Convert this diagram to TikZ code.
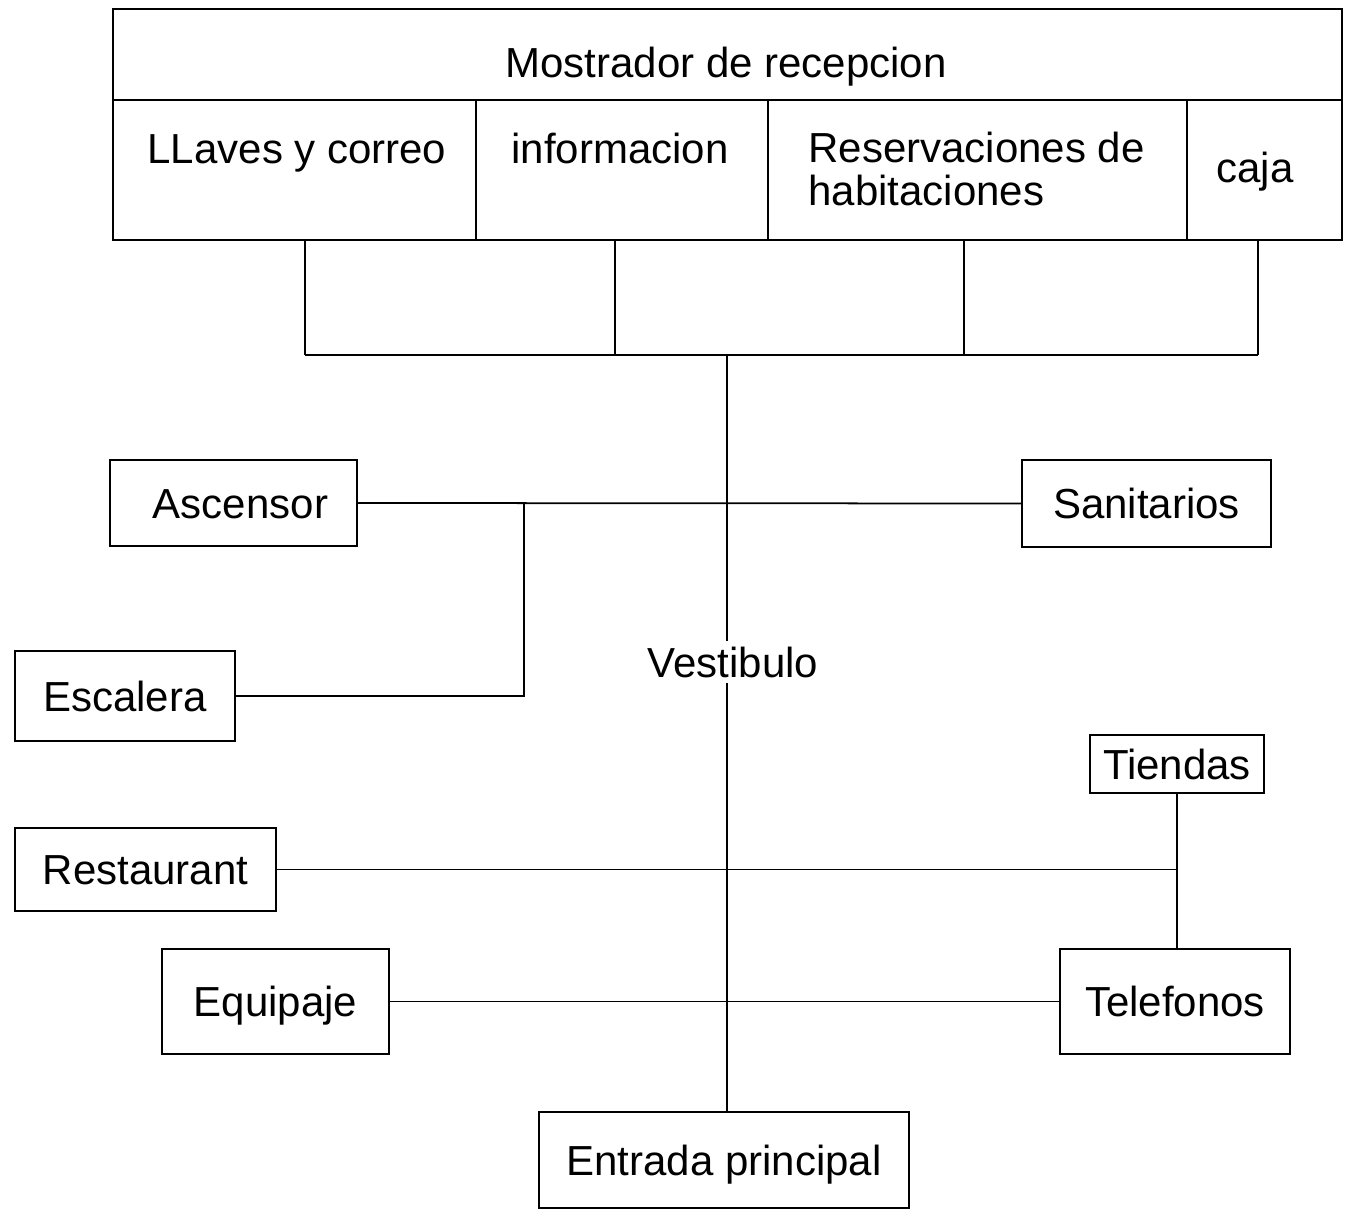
\documentclass[tikz,border=0pt]{standalone}
\usepackage{fontspec}
\setmainfont{Liberation Sans}
\usepackage{tikz}
\usetikzlibrary{positioning}
\newcommand{\lblfont}{\fontsize{23.9}{24.5}\selectfont}
\tikzset{
	cell/.style={draw, line width=1.3pt, inner sep=0pt, outer sep=0pt},
	box/.style={draw, line width=1.3pt, inner sep=0pt, font=\lblfont, text height=17.2pt, text depth=0pt},
	txt/.style={inner sep=0pt, font=\lblfont},
	wire/.style={line width=1pt}
}

\begin{document}
\begin{tikzpicture}
		\useasboundingbox (0,0) rectangle (26.94,-24.2);
		\node[cell, minimum width=24.58cm, minimum height=1.82cm] (mostrador) at (14.55,-1.09) {};
		\node[cell, minimum width=7.26cm, minimum height=2.8cm, anchor=north west] (llaves) at (mostrador.south west) {};
		\node[cell, minimum width=5.84cm, minimum height=2.8cm, right=0pt of llaves] (info) {};
		\node[cell, minimum width=8.38cm, minimum height=2.8cm, right=0pt of info] (reserv) {};
		\node[cell, minimum width=3.10cm, minimum height=2.8cm, right=0pt of reserv] (caja) {};
		\node[txt, anchor=base] (tmostrador) at (14.52,-1.56) {Mostrador de recepcion};
		\node[txt, anchor=base] (tllaves) at (5.94,-3.28) {LLaves y correo};
		\node[txt, anchor=base] (tinfo) at (12.4,-3.28) {informacion};
		\node[txt, anchor=base west, align=left] (treserv) at (16.16,-4.12) {Reservaciones de\\habitaciones};
		\node[txt, anchor=base] (tcaja) at (25.1,-3.66) {caja};

		\coordinate (b1) at (6.1,-7.1);
		\coordinate (b2) at (12.3,-7.1);
		\coordinate (b3) at (19.28,-7.1);
		\coordinate (b4) at (25.16,-7.1);
		\coordinate (hub) at (14.54,-7.1);
		\draw[wire] (b1) -- (b4);
		\draw[wire] (b1) -- (b1 |- llaves.south);
		\draw[wire] (b2) -- (b2 |- info.south);
		\draw[wire] (b3) -- (b3 |- reserv.south);
		\draw[wire] (b4) -- (b4 |- caja.south);

		\node[box, minimum width=4.94cm, minimum height=1.72cm] (asc) at (4.67,-10.06) {\hspace*{0.28cm}Ascensor};
		\node[box, minimum width=4.98cm, minimum height=1.74cm] (san) at (22.93,-10.07) {Sanitarios};
		\node[box, minimum width=4.4cm, minimum height=1.8cm] (esc) at (2.5,-13.92) {Escalera};
		\node[txt, inner sep=3pt] (vest) at (14.66,-13.24) {Vestibulo};
		\node[box, minimum width=3.48cm, minimum height=1.16cm] (tien) at (23.54,-15.28) {Tiendas};
		\node[box, minimum width=5.22cm, minimum height=1.66cm] (rest) at (2.91,-17.39) {Restaurant};
		\node[box, minimum width=4.54cm, minimum height=2.1cm] (equi) at (5.51,-20.03) {Equipaje};
		\node[box, minimum width=4.6cm, minimum height=2.1cm] (tel) at (23.5,-20.03) {Telefonos};
		\node[box, minimum width=7.4cm, minimum height=1.92cm] (entrada) at (14.48,-23.2) {Entrada principal};

		\coordinate (br) at (10.48,-10.06);
		\draw[wire] (hub) -- (hub |- vest.north);
		\draw[wire] (hub |- vest.south) -- (hub |- entrada.north);
		\draw[wire] (asc.east) -- (san.west);
		\draw[wire] (br) |- (esc.east);
		\draw[wire] (rest.east) -- (rest.east -| tien.south);
		\draw[wire] (tien.south) -- (tien.south |- tel.north);
		\draw[wire] (equi.east) -- (tel.west);
	\end{tikzpicture}
\end{document}
